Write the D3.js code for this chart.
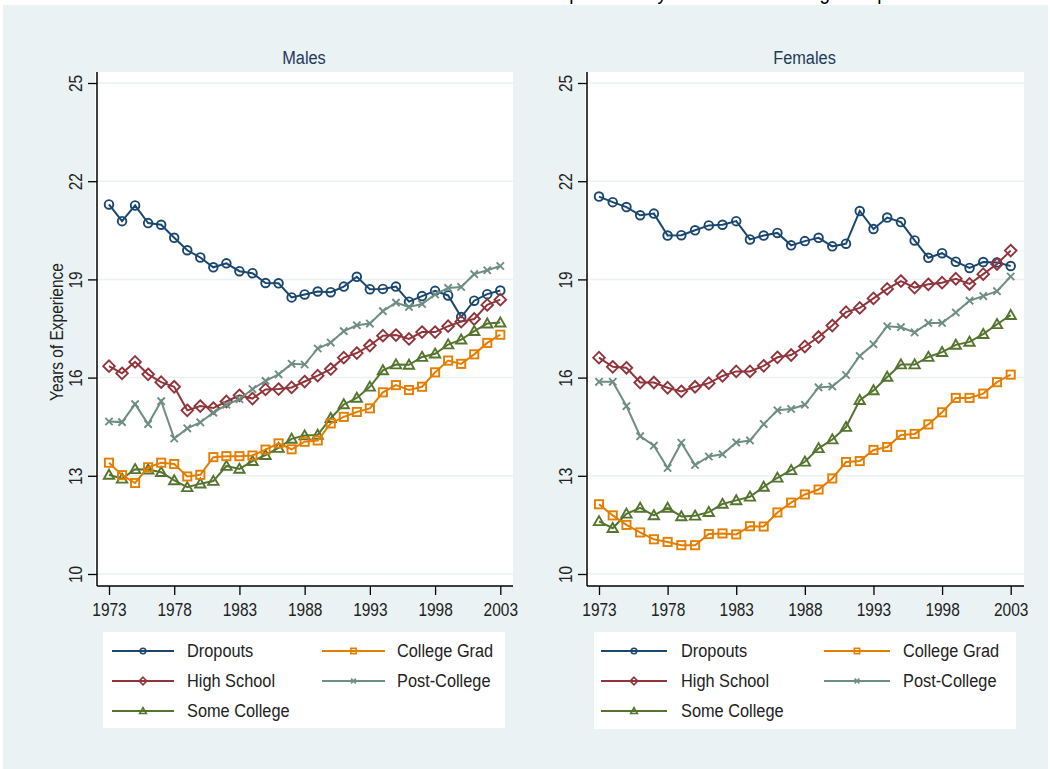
<!DOCTYPE html>
<html><head><meta charset="utf-8">
<script src="https://cdn.jsdelivr.net/npm/d3@7"></script>
<style>
html,body{margin:0;padding:0;background:#fff;}
svg{display:block;}
text{font-family:"Liberation Sans Narrow","Arial Narrow","Liberation Sans",Arial,sans-serif;}
</style></head>
<body>
<svg id="chart" width="1050" height="769"></svg>
<script>
const years = d3.range(1973, 2004);
const yTicks = [10, 13, 16, 19, 22, 25];
const xTicks = [1973, 1978, 1983, 1988, 1993, 1998, 2003];
const seriesNames = ["Dropouts", "High School", "Some College", "College Grad", "Post-College"];
const seriesColors = ["#1a476f", "#90353b", "#55752f", "#e37e00", "#6e8e84"];
const seriesSymbols = ["circle", "diamond", "triangle", "square", "x"];

const maleDropouts = [21.29,20.78,21.26,20.72,20.67,20.27,19.89,19.67,19.37,19.49,19.25,19.19,18.89,18.88,18.45,18.54,18.63,18.61,18.78,19.08,18.70,18.71,18.78,18.32,18.49,18.65,18.51,17.85,18.35,18.55,18.66];
const maleHighSchool = [16.35,16.13,16.48,16.10,15.86,15.72,15.00,15.13,15.07,15.27,15.46,15.36,15.64,15.65,15.70,15.88,16.06,16.26,16.61,16.75,16.98,17.28,17.30,17.18,17.39,17.39,17.57,17.71,17.79,18.22,18.38];
const maleSomeCollege = [13.03,12.91,13.20,13.19,13.11,12.86,12.65,12.76,12.84,13.30,13.21,13.45,13.63,13.85,14.13,14.23,14.25,14.76,15.18,15.38,15.72,16.22,16.40,16.39,16.63,16.73,17.01,17.16,17.42,17.65,17.68];
const maleCollegeGrad = [13.40,13.02,12.78,13.26,13.40,13.36,12.98,13.03,13.57,13.60,13.60,13.62,13.80,13.99,13.81,14.04,14.08,14.60,14.80,14.95,15.06,15.55,15.77,15.62,15.72,16.16,16.52,16.42,16.71,17.06,17.31];
const malePostCollege = [14.66,14.64,15.19,14.58,15.28,14.14,14.45,14.63,14.93,15.17,15.34,15.65,15.90,16.10,16.42,16.40,16.89,17.07,17.42,17.60,17.65,18.03,18.29,18.16,18.25,18.54,18.74,18.77,19.16,19.28,19.41];

const femaleDropouts = [21.53,21.36,21.21,20.96,21.01,20.34,20.35,20.50,20.65,20.67,20.78,20.22,20.34,20.42,20.04,20.17,20.27,20.01,20.09,21.09,20.54,20.89,20.75,20.19,19.66,19.80,19.54,19.35,19.53,19.52,19.41];
const femaleHighSchool = [16.61,16.33,16.30,15.85,15.85,15.69,15.58,15.72,15.83,16.05,16.19,16.19,16.36,16.62,16.69,16.95,17.24,17.59,18.00,18.13,18.42,18.71,18.95,18.75,18.85,18.90,19.02,18.86,19.16,19.47,19.88];
const femaleSomeCollege = [11.61,11.40,11.84,12.02,11.79,12.02,11.76,11.78,11.89,12.14,12.25,12.36,12.66,12.94,13.17,13.43,13.84,14.11,14.49,15.31,15.61,16.02,16.40,16.40,16.63,16.78,17.00,17.09,17.33,17.63,17.91];
const femaleCollegeGrad = [12.13,11.79,11.50,11.27,11.06,10.98,10.88,10.88,11.22,11.24,11.21,11.46,11.45,11.88,12.18,12.43,12.58,12.92,13.42,13.45,13.79,13.88,14.25,14.28,14.57,14.94,15.38,15.38,15.51,15.86,16.09];
const femalePostCollege = [15.87,15.87,15.13,14.21,13.92,13.24,14.01,13.33,13.59,13.66,14.02,14.08,14.58,15.00,15.04,15.17,15.70,15.73,16.08,16.66,17.02,17.57,17.54,17.38,17.67,17.67,17.99,18.35,18.49,18.64,19.09];

const panels = [
  {title: "Males", series: [maleDropouts, maleHighSchool, maleSomeCollege, maleCollegeGrad, malePostCollege],
   region: [95, 72, 513, 586], xr: [109, 500.3], yAxisTitle: "Years of Experience",
   legend: {box: [103, 632, 505, 728], c1: [112, 174, 187], c2: [322, 385, 397]}},
  {title: "Females", series: [femaleDropouts, femaleHighSchool, femaleSomeCollege, femaleCollegeGrad, femalePostCollege],
   region: [585, 72, 1024, 586], xr: [599, 1010.7], yAxisTitle: null,
   legend: {box: [594, 632, 1016, 729], c1: [601, 667, 681], c2: [824, 890, 903]}}
];

const NARROW = 0.86;
const svg = d3.select("#chart");
svg.append("rect").attr("x", 0).attr("y", 0).attr("width", 1050).attr("height", 769).attr("fill", "#ffffff");
svg.append("rect").attr("x", 3).attr("y", 5).attr("width", 1045).attr("height", 764).attr("fill", "#eaf2f3");

// overall title, cut off at the top edge as in the reference (only descenders visible)
svg.append("text").attr("transform", `translate(615,-1) scale(${NARROW},1)`).attr("text-anchor", "middle")
  .attr("font-size", 22).attr("fill", "#000")
  .text("Mean Years of Potential Experience by Sex and Schooling Group");

function marker(g, sym, x, y, color, r, sw) {
  if (sym === "circle") {
    g.append("circle").attr("cx", x).attr("cy", y).attr("r", r).attr("fill", "none").attr("stroke", color).attr("stroke-width", sw);
  } else if (sym === "diamond") {
    const s = r * 1.35;
    g.append("path").attr("d", `M${x},${y-s}L${x+s},${y}L${x},${y+s}L${x-s},${y}Z`).attr("fill", "none").attr("stroke", color).attr("stroke-width", sw);
  } else if (sym === "triangle") {
    const s = r * 1.2;
    g.append("path").attr("d", `M${x},${y-s}L${x+s},${y+s*0.75}L${x-s},${y+s*0.75}Z`).attr("fill", "none").attr("stroke", color).attr("stroke-width", sw);
  } else if (sym === "square") {
    const s = r * 0.95;
    g.append("rect").attr("x", x-s).attr("y", y-s).attr("width", 2*s).attr("height", 2*s).attr("fill", "none").attr("stroke", color).attr("stroke-width", sw);
  } else if (sym === "x") {
    const s = r * 0.85;
    g.append("path").attr("d", `M${x-s},${y-s}L${x+s},${y+s}M${x-s},${y+s}L${x+s},${y-s}`).attr("fill", "none").attr("stroke", color).attr("stroke-width", sw);
  }
}

panels.forEach(p => {
  const [x0, y0, x1, y1] = p.region;
  const x = d3.scaleLinear().domain([1973, 2003]).range(p.xr);
  const y = d3.scaleLinear().domain([10, 25]).range([574, 83]);
  const g = svg.append("g");
  g.append("rect").attr("x", x0).attr("y", y0).attr("width", x1 - x0).attr("height", y1 - y0).attr("fill", "#ffffff");
  // gridlines
  g.selectAll(".grid").data(yTicks).enter().append("line")
    .attr("x1", x0 + 2).attr("x2", x1).attr("y1", d => y(d)).attr("y2", d => y(d))
    .attr("stroke", "#eaf2f3").attr("stroke-width", 1.5);
  // axes
  const ax = g.append("g").attr("transform", `translate(${x0 + 2},0)`)
    .call(d3.axisLeft(y).tickValues(yTicks).tickSize(9).tickPadding(6).tickFormat(d3.format("d")));
  ax.select(".domain").attr("d", `M0,${y0}V${y1}`).attr("stroke", "#000").attr("stroke-width", 1.5);
  ax.selectAll(".tick line").attr("stroke", "#000").attr("stroke-width", 1.3);
  ax.selectAll(".tick text").attr("font-size", 18).attr("fill", "#222")
    .attr("x", null).attr("dy", null).attr("text-anchor", "middle")
    .attr("transform", `translate(-15,0) rotate(-90) scale(${NARROW},1)`);
  const bx = g.append("g").attr("transform", `translate(0,${y1})`)
    .call(d3.axisBottom(x).tickValues(xTicks).tickSize(9).tickPadding(8).tickFormat(d3.format("d")));
  bx.select(".domain").attr("d", `M${x0 + 2},0H${x1}`).attr("stroke", "#000").attr("stroke-width", 1.5);
  bx.selectAll(".tick line").attr("stroke", "#000").attr("stroke-width", 1.3);
  bx.selectAll(".tick text").attr("font-size", 18).attr("fill", "#222")
    .attr("transform", `scale(${NARROW},1)`);
  // panel title
  g.append("text").attr("transform", `translate(${(x0 + x1) / 2},64) scale(${NARROW},1)`).attr("text-anchor", "middle")
    .attr("font-size", 19).attr("fill", "#1e3a5a").text(p.title);
  if (p.yAxisTitle) {
    g.append("text").attr("transform", `translate(63,332) rotate(-90) scale(${NARROW},1)`).attr("text-anchor", "middle")
      .attr("font-size", 18).attr("fill", "#222").text(p.yAxisTitle);
  }
  // series
  p.series.forEach((vals, si) => {
    const color = seriesColors[si];
    const pts = vals.map((v, i) => [years[i], v]);
    g.append("path").datum(pts)
      .attr("d", d3.line().x(d => x(d[0])).y(d => y(d[1])))
      .attr("fill", "none").attr("stroke", color).attr("stroke-width", 2);
    const mg = g.append("g");
    pts.forEach(d => marker(mg, seriesSymbols[si], x(d[0]), y(d[1]), color, 4.3, 1.9));
  });
  // legend
  const L = p.legend;
  g.append("rect").attr("x", L.box[0]).attr("y", L.box[1]).attr("width", L.box[2] - L.box[0]).attr("height", L.box[3] - L.box[1]).attr("fill", "#ffffff");
  const rowsY = [651, 681, 711];
  seriesNames.forEach((name, si) => {
    const col = si < 3 ? L.c1 : L.c2;
    const ry = rowsY[si < 3 ? si : si - 3];
    const color = seriesColors[si];
    g.append("line").attr("x1", col[0]).attr("x2", col[1]).attr("y1", ry).attr("y2", ry)
      .attr("stroke", color).attr("stroke-width", 2);
    marker(g, seriesSymbols[si], (col[0] + col[1]) / 2, ry, color, 2.8, 1.6);
    g.append("text").attr("transform", `translate(${col[2]},${ry - 1}) scale(${NARROW},1)`).attr("dy", "0.35em")
      .attr("font-size", 19).attr("fill", "#222").text(name);
  });
});
</script>
</body></html>
